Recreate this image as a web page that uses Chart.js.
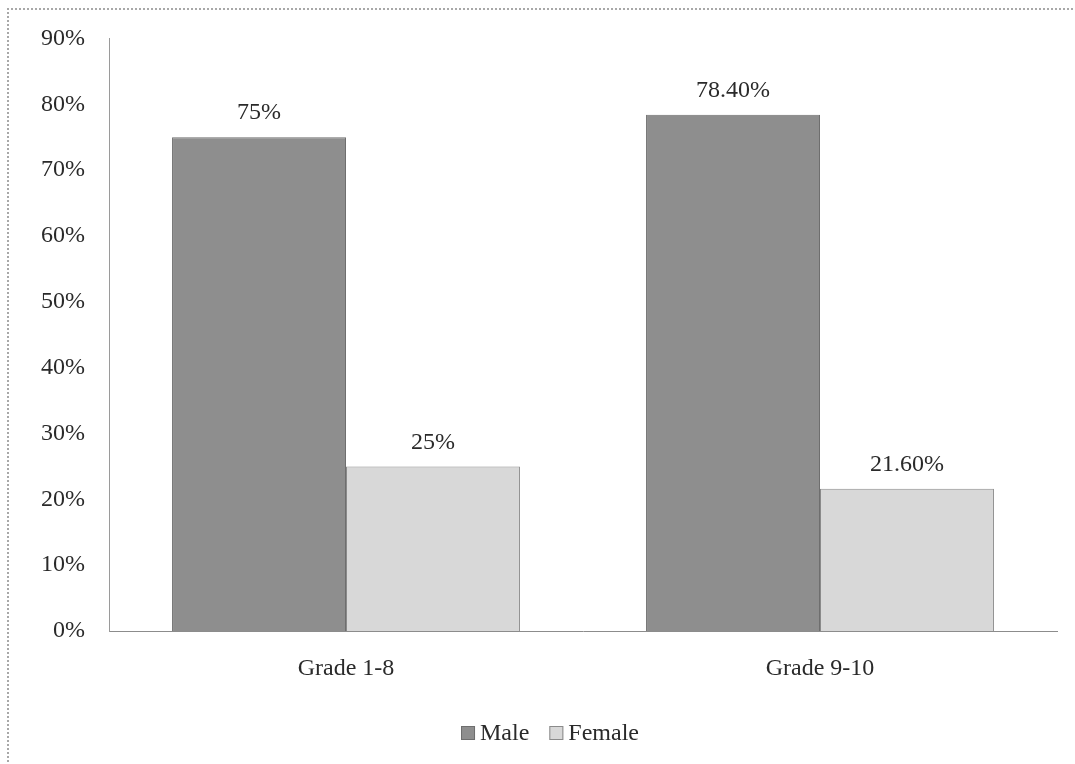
<!DOCTYPE html>
<html>
<head>
<meta charset="utf-8">
<script src="https://cdn.jsdelivr.net/npm/chart.js@4"></script>
<style>
  html, body { margin: 0; padding: 0; background: #fff; }
  #wrap { position: relative; width: 1075px; height: 764px; overflow: hidden; }
  #frame { position: absolute; left: 7px; top: 8px; width: 1200px; height: 900px;
           border-left: 2px dotted #a8a8a8; border-top: 2px dotted #a8a8a8; pointer-events: none; }
  canvas { position: absolute; left: 0; top: 0; }
</style>
</head>
<body>
<div id="wrap">
  <div id="frame"></div>
  <canvas id="c" width="1075" height="764"></canvas>
</div>
<script>
const categories = ['Grade 1-8', 'Grade 9-10'];
const maleValues = [75, 78.4];
const femaleValues = [25, 21.6];
const yTicks = [0, 10, 20, 30, 40, 50, 60, 70, 80, 90];

const FONT = '"Liberation Serif", "Times New Roman", serif';
const TEXT = '#2a2a2a';

function pct(v) {
  return Number.isInteger(v) ? v + '%' : v.toFixed(2) + '%';
}

// Value labels above each bar
const valueLabels = {
  id: 'valueLabels',
  afterDatasetsDraw(chart) {
    const ctx = chart.ctx;
    ctx.save();
    ctx.font = '24px ' + FONT;
    ctx.fillStyle = TEXT;
    ctx.textAlign = 'center';
    ctx.textBaseline = 'middle';
    chart.data.datasets.forEach((ds, i) => {
      chart.getDatasetMeta(i).data.forEach((bar, j) => {
        ctx.fillText(pct(ds.data[j]), bar.x, bar.y - 24);
      });
    });
    ctx.restore();
  }
};

// Legend row centred under the axis labels
const bottomLegend = {
  id: 'bottomLegend',
  afterDraw(chart) {
    const ctx = chart.ctx;
    ctx.save();
    ctx.font = '24px ' + FONT;
    ctx.textBaseline = 'middle';
    const box = 14, gap = 5, between = 20, y = 733;
    const items = chart.data.datasets.map(ds => ({
      label: ds.label, fill: ds.backgroundColor, stroke: ds.borderColor,
      w: box + gap + ctx.measureText(ds.label).width
    }));
    const total = items.reduce((s, it) => s + it.w, 0) + between * (items.length - 1);
    let x = 550 - total / 2;
    items.forEach(it => {
      ctx.fillStyle = it.fill;
      ctx.fillRect(x, y - box / 2, box, box);
      ctx.strokeStyle = it.stroke;
      ctx.lineWidth = 1;
      ctx.strokeRect(x + 0.5, y - box / 2 + 0.5, box - 1, box - 1);
      ctx.fillStyle = TEXT;
      ctx.textAlign = 'left';
      ctx.fillText(it.label, x + box + gap, y + 1);
      x += it.w + between;
    });
    ctx.restore();
  }
};

new Chart(document.getElementById('c'), {
  type: 'bar',
  data: {
    labels: categories,
    datasets: [
      { label: 'Male', data: maleValues, backgroundColor: '#8e8e8e', borderColor: '#6e6e6e', borderWidth: 1 },
      { label: 'Female', data: femaleValues, backgroundColor: '#d8d8d8', borderColor: '#8a8a8a', borderWidth: 1 }
    ]
  },
  options: {
    responsive: false,
    animation: false,
    devicePixelRatio: 1,
    layout: { padding: { top: 36, left: 0, right: 18, bottom: 58 } },
    datasets: { bar: { categoryPercentage: 0.734, barPercentage: 1.0 } },
    plugins: {
      legend: { display: false },
      tooltip: { enabled: false }
    },
    scales: {
      x: {
        grid: { display: false, drawTicks: false },
        border: { display: true, color: '#8c8c8c', width: 1 },
        ticks: { color: TEXT, font: { family: FONT, size: 24 }, padding: 23, maxRotation: 0 },
        afterFit(scale) { scale.height = 75; }
      },
      y: {
        min: 0,
        max: 90,
        afterBuildTicks(scale) { scale.ticks = yTicks.map(v => ({ value: v })); },
        grid: { display: false, drawTicks: false },
        border: { display: true, color: '#9a9a9a', width: 1 },
        ticks: { color: TEXT, font: { family: FONT, size: 24 }, padding: 24, callback: v => v + '%' },
        afterFit(scale) { scale.width = 109; }
      }
    }
  },
  plugins: [valueLabels, bottomLegend]
});
</script>
</body>
</html>
